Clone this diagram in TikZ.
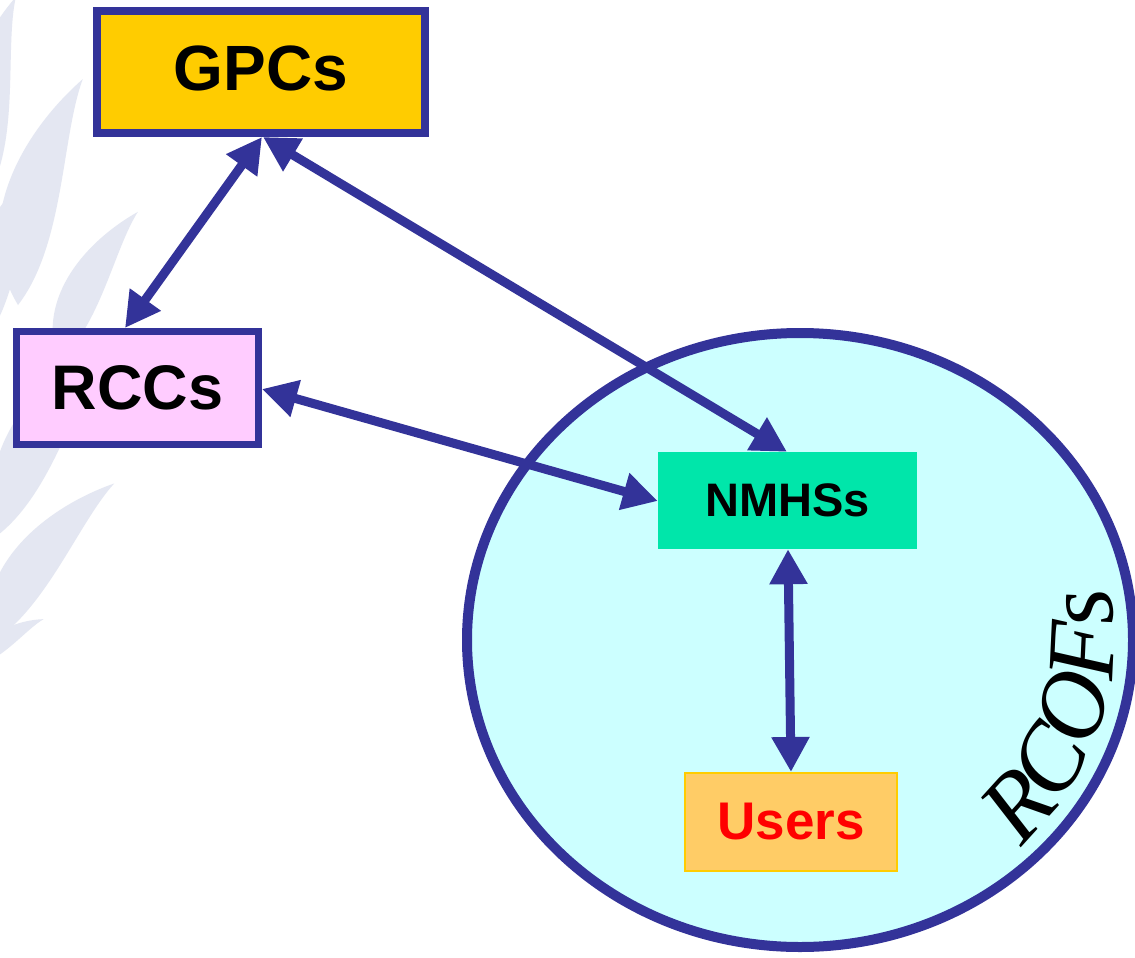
\documentclass[tikz,border=0pt]{standalone}
\usepackage{fontspec}
\setsansfont{Liberation Sans}
\newfontfamily\forumfont{Liberation Serif}
\usetikzlibrary{arrows.meta,decorations.text,shapes.geometric}

\definecolor{navy}{HTML}{333399}
\definecolor{gold}{HTML}{FFCC00}
\definecolor{pinkfill}{HTML}{FFCCFF}
\definecolor{teal}{HTML}{00E6AA}
\definecolor{paleorange}{HTML}{FFCC66}
\definecolor{paleaqua}{HTML}{CCFFFF}
\definecolor{wmleaf}{HTML}{E4E7F2}

\tikzset{
  box/.style={rectangle, inner sep=0pt, font=\sffamily\bfseries},
  link/.style={draw=navy, line width=9pt,
    {Triangle[length=35pt,width=36pt]}-{Triangle[length=35pt,width=36pt]}},
  leaf/.pic={\fill[wmleaf] (0,0) .. controls (0.28,0.3) and (0.72,0.18) .. (1,0)
      .. controls (0.74,0.02) and (0.3,-0.12) .. (0,0);}
}

\begin{document}
\begin{tikzpicture}[x=1pt,y=1pt]
\useasboundingbox (0,0) rectangle (1135,-958);
\fill[white] (0,0) rectangle (1135,-958);

% faint laurel branch in the background
\begin{scope}
\clip (0,0) rectangle (1135,-958);
\pic[rotate=82, scale=200] at (-12,-195) {leaf};
\pic[rotate=74, scale=235] at (18,-305) {leaf};
\pic[rotate=62, scale=170] at (58,-362) {leaf};
\pic[rotate=72, scale=190] at (-18,-345) {leaf};
\pic[rotate=60, scale=232] at (-2,-535) {leaf};
\pic[rotate=52, scale=205] at (-12,-645) {leaf};
\pic[rotate=35, scale=80] at (-22,-665) {leaf};
\end{scope}

% regional outlook forum area
\node[ellipse, draw=navy, fill=paleaqua, line width=10pt,
      minimum width=666pt, minimum height=614pt, inner sep=0pt] (rcof) at (800,-640) {};
\path[decorate, decoration={text along path, text align=center,
      text={|\forumfont\itshape\fontsize{96}{96}\selectfont|RCOFs}}]
  ([shift={(-64:314 and 290)}]rcof.center)
  arc[start angle=-64, end angle=30, x radius=314, y radius=290];

% centres
\node[box, draw=navy, fill=gold, line width=8pt, minimum width=328pt, minimum height=122pt,
      text height=46pt, text depth=10pt, font=\sffamily\bfseries\fontsize{64}{64}\selectfont]
  (gpc) at (261,-72) {GPCs};
\node[box, draw=navy, fill=pinkfill, line width=7pt, minimum width=242pt, minimum height=113pt,
      font=\sffamily\bfseries\fontsize{63}{63}\selectfont]
  (rcc) at (137.5,-388) {RCCs};
\node[box, fill=teal, minimum width=259pt, minimum height=97pt,
      font=\sffamily\bfseries\fontsize{47}{47}\selectfont]
  (nmhs) at (787.5,-500.5) {NMHSs};
\node[box, draw=gold, fill=paleorange, line width=2pt, minimum width=212pt, minimum height=98pt,
      text=red, font=\sffamily\bfseries\fontsize{53}{53}\selectfont]
  (users) at (791,-822) {Users};

% information flows
\draw[link] ([xshift=1pt]gpc.south) -- ([xshift=-12.5pt]rcc.north);
\draw[link] ([xshift=2pt]gpc.south) -- ([xshift=-0.5pt]nmhs.north);
\draw[link] ([yshift=-1pt]rcc.east) -- ([yshift=-0.5pt]nmhs.west);
\draw[link] ([xshift=0.5pt]nmhs.south) -- ([xshift=0pt]users.north);
\end{tikzpicture}
\end{document}
